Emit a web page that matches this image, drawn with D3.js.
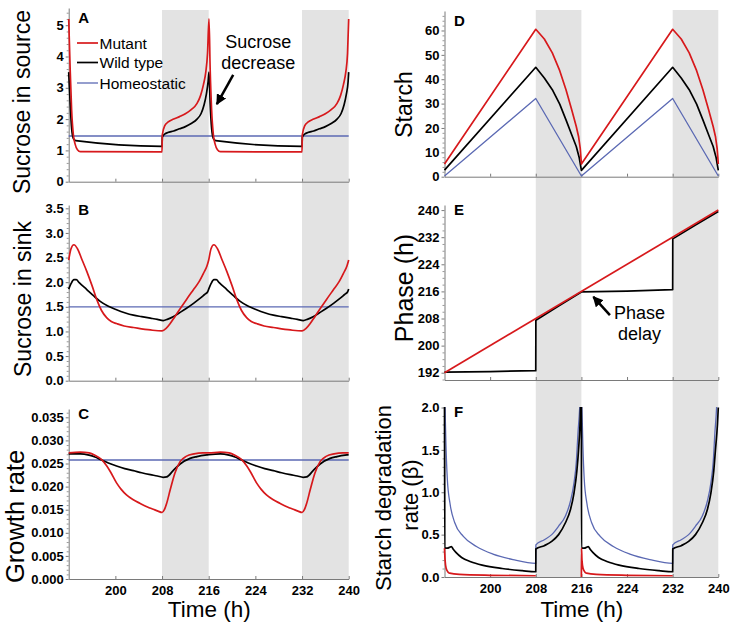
<!DOCTYPE html>
<html>
<head>
<meta charset="utf-8">
<script src="https://cdn.jsdelivr.net/npm/d3@7"></script>
<style>
body { margin: 0; background: #fff; }
text { font-family: "Liberation Sans", Arial, sans-serif; }
</style>
</head>
<body>
<svg width="737" height="632"></svg>
<script>
// ---- data ----
var timeTicks = [200, 208, 216, 224, 232, 240];
var darkPeriods = [[208, 216], [232, 240]];
var seriesNames = ["Mutant", "Wild type", "Homeostatic"];
var seriesColors = ["#d7191c", "#000000", "#5b69b3"];

// A: sucrose in source
var srcTicks = [0, 1, 2, 3, 4, 5];
var srcMutant = [[192,5.2],[192.25,3.6],[192.5,2.3],[192.8,1.5],[193.1,1.2],[193.5,1.02],[194,0.96],[208,0.95],
  [208.05,1.5],[208.5,1.8],[209,1.9],[210,2.0],[211,2.08],[212,2.17],[213,2.3],[214,2.5],[214.6,2.75],[215.1,3.1],[215.5,3.5],[215.8,4.1],[216.05,5.2],
  [216.25,3.6],[216.5,2.3],[216.8,1.5],[217.1,1.2],[217.5,1.02],[218,0.96],[232,0.95],
  [232.05,1.5],[232.5,1.8],[233,1.9],[234,2.0],[235,2.08],[236,2.17],[237,2.3],[238,2.5],[238.6,2.75],[239.1,3.1],[239.5,3.5],[239.8,4.1],[240,5.2]];
var srcWild = [[192,3.5],[192.25,2.5],[192.5,1.7],[192.8,1.38],[193.2,1.31],[208,1.13],
  [208.05,1.42],[208.5,1.53],[209,1.57],[210,1.62],[211,1.69],[212,1.76],[213,1.86],[214,2.0],[214.7,2.18],[215.2,2.45],[215.6,2.8],[215.9,3.2],[216.05,3.5],
  [216.25,2.5],[216.5,1.7],[216.8,1.38],[217.2,1.31],[232,1.13],
  [232.05,1.42],[232.5,1.53],[233,1.57],[234,1.62],[235,1.69],[236,1.76],[237,1.86],[238,2.0],[238.7,2.18],[239.2,2.45],[239.6,2.8],[239.9,3.2],[240,3.5]];
var srcHomeo = [[192,1.46],[240,1.46]];

// B: sucrose in sink
var sinkTicks = [0, 0.5, 1, 1.5, 2, 2.5, 3, 3.5];
var sinkMutant = [[192,2.45],[192.4,2.68],[192.9,2.76],[193.5,2.68],[194.3,2.45],[195.1,2.22],[196,1.93],[196.8,1.65],[197.6,1.43],[198.5,1.28],[199.3,1.2],[200.2,1.16],[201.5,1.11],[203.1,1.08],[206,1.03],[208,1.01],[208.7,1.06],[209.4,1.16],[210.2,1.3],[211.1,1.46],[212.2,1.65],[213.4,1.85],[214.3,2.0],[215.1,2.18],[215.7,2.33],
  [216,2.45],[216.4,2.68],[216.9,2.76],[217.5,2.68],[218.3,2.45],[219.1,2.22],[220,1.93],[220.8,1.65],[221.6,1.43],[222.5,1.28],[223.3,1.2],[224.2,1.16],[225.5,1.11],[227.1,1.08],[230,1.03],[232,1.01],[232.7,1.06],[233.4,1.16],[234.2,1.3],[235.1,1.46],[236.2,1.65],[237.4,1.85],[238.3,2.0],[239.1,2.18],[239.7,2.33],[240,2.45]];
var sinkWild = [[192,1.86],[192.4,1.97],[192.9,2.05],[193.3,2.05],[193.8,1.99],[195.1,1.85],[196.3,1.72],[197.4,1.61],[198.8,1.51],[200.2,1.44],[201.6,1.38],[203.1,1.33],[204.5,1.3],[206,1.27],[207.2,1.245],[208.2,1.22],[209,1.25],[209.9,1.3],[211,1.38],[212.2,1.47],[213.4,1.57],[214.5,1.67],[215.3,1.75],[215.8,1.8],
  [216,1.86],[216.4,1.97],[216.9,2.05],[217.3,2.05],[217.8,1.99],[219.1,1.85],[220.3,1.72],[221.4,1.61],[222.8,1.51],[224.2,1.44],[225.6,1.38],[227.1,1.33],[228.5,1.3],[230,1.27],[231.2,1.245],[232.2,1.22],[233,1.25],[233.9,1.3],[235,1.38],[236.2,1.47],[237.4,1.57],[238.5,1.67],[239.3,1.75],[239.8,1.8],[240,1.86]];
var sinkHomeo = [[192,1.5],[240,1.5]];

// C: growth rate
var growthTicks = [0, 0.005, 0.01, 0.015, 0.02, 0.025, 0.03, 0.035];
var growthMutant = [[192,0.0273],[194,0.02745],[195.5,0.0273],[196.5,0.0268],[197.7,0.0258],[198.5,0.0245],[199.2,0.0231],[200.2,0.0208],[201,0.0194],[201.9,0.0182],[203,0.0172],[204.2,0.0164],[205.5,0.0156],[206.5,0.0151],[207.3,0.0147],[208,0.0144],[208.4,0.015],[208.8,0.0164],[209.4,0.0193],[210.2,0.0229],[211.1,0.0254],[212.2,0.0266],[213.5,0.0271],[215,0.0273],
  [216,0.0273],[218,0.02745],[219.5,0.0273],[220.5,0.0268],[221.7,0.0258],[222.5,0.0245],[223.2,0.0231],[224.2,0.0208],[225,0.0194],[225.9,0.0182],[227,0.0172],[228.2,0.0164],[229.5,0.0156],[230.5,0.0151],[231.3,0.0147],[232,0.0144],[232.4,0.015],[232.8,0.0164],[233.4,0.0193],[234.2,0.0229],[235.1,0.0254],[236.2,0.0266],[237.5,0.0271],[239,0.0273],[240,0.0273]];
var growthWild = [[192,0.0271],[194,0.0271],[195.5,0.0268],[196.5,0.0264],[197.4,0.0259],[198.8,0.0251],[200.2,0.02446],[201.6,0.0239],[203.1,0.02345],[204.5,0.023],[206,0.02259],[207.2,0.0223],[208.2,0.02201],[208.8,0.0221],[209.9,0.02345],[211.1,0.0249],[212.8,0.02612],[214,0.0265],[215.7,0.02685],
  [216,0.0269],[218,0.0271],[219.5,0.0268],[220.5,0.0264],[221.4,0.0259],[222.8,0.0251],[224.2,0.02446],[225.6,0.0239],[227.1,0.02345],[228.5,0.023],[230,0.02259],[231.2,0.0223],[232.2,0.02201],[232.8,0.0221],[233.9,0.02345],[235.1,0.0249],[236.8,0.02612],[238,0.0265],[239.7,0.02685],[240,0.0269]];
var growthHomeo = [[192,0.02576],[240,0.02576]];

// D: starch
var starchTicks = [0, 10, 20, 30, 40, 50, 60];
var starchMutant = [[192,5.2],[208,60.5],[209.5,56.5],[210.9,50.8],[212.2,43.5],[213.3,35.7],[214.3,27.5],[215.1,20.6],[215.5,16.5],[215.8,11.5],[216,5.2],
  [232,60.5],[233.5,56.5],[234.9,50.8],[236.2,43.5],[237.3,35.7],[238.3,27.5],[239.1,20.6],[239.5,16.5],[239.8,11.5],[240,5.2]];
var starchWild = [[192,2.7],[208,44.9],[209.5,40.5],[210.9,35.7],[212.2,29.8],[213.3,23.3],[214.3,17.2],[215.1,12.4],[215.6,8],[216,2.6],
  [232,44.9],[233.5,40.5],[234.9,35.7],[236.2,29.8],[237.3,23.3],[238.3,17.2],[239.1,12.4],[239.6,8],[240,2.6]];
var starchHomeo = [[192,0.3],[208,32.1],[216,0.3],[232,32.1],[240,0.3]];

// E: phase
var phaseTicks = [192, 200, 208, 216, 224, 232, 240];
var phaseMutant = [[192,192],[240,240]];
var phaseWild = [[192,192.2],[200,192.35],[208,192.6],[208.02,207.5],[212,211.7],[216,215.85],[224,216.1],[232,216.5],[232.02,231.5],[236,235.6],[240,239.6]];

// F: starch degradation rate
var betaTicks = [0, 0.5, 1, 1.5, 2];
var betaMutant = [[192,0.34],[192.1,0.2],[192.3,0.1],[192.6,0.06],[192.9,0.045],[194.6,0.03],[200,0.02],[208,0.015],[208.01,null],
  [216,0],[216.02,0.34],[216.1,0.2],[216.3,0.1],[216.6,0.06],[216.9,0.045],[218.6,0.03],[224,0.02],[232,0.015],[232.01,null],[240,null]];
var betaWild = [[192,2.3],[192.02,0.34],[192.5,0.34],[192.9,0.35],[193.2,0.36],[193.5,0.33],[194,0.29],[195,0.23],[196.6,0.18],[198.6,0.14],[202.1,0.1],[205.6,0.075],[208,0.062],
  [208.02,0.33],[209.5,0.37],[210.8,0.42],[212,0.5],[213.2,0.64],[214.1,0.8],[214.7,0.99],[215.2,1.25],[215.5,1.5],[215.85,2.0],[216,2.5],
  [216.02,0.34],[216.5,0.34],[216.9,0.35],[217.2,0.36],[217.5,0.33],[218,0.29],[219,0.23],[220.6,0.18],[222.6,0.14],[226.1,0.1],[229.6,0.075],[232,0.062],
  [232.02,0.33],[233.5,0.37],[234.8,0.42],[236,0.5],[237.2,0.64],[238.1,0.8],[238.7,0.99],[239.2,1.25],[239.5,1.5],[239.85,1.8],[240,2.0]];
var betaHomeo = [[192,2.3],[192.1,1.98],[192.26,1.55],[192.5,1.15],[192.96,0.87],[193.8,0.64],[195.3,0.48],[197.6,0.36],[200.5,0.27],[204,0.205],[208,0.16],
  [208.02,0.38],[209.5,0.44],[210.8,0.5],[212,0.6],[213.2,0.72],[214.1,0.9],[214.7,1.11],[215.1,1.35],[215.4,1.7],[215.7,2.0],[216,2.6],
  [216.02,2.3],[216.1,1.98],[216.26,1.55],[216.5,1.15],[216.96,0.87],[217.8,0.64],[219.3,0.48],[221.6,0.36],[224.5,0.27],[228,0.205],[232,0.16],
  [232.02,0.38],[233.5,0.44],[234.8,0.5],[236,0.6],[237.2,0.72],[238.1,0.9],[238.7,1.11],[239.1,1.35],[239.4,1.7],[239.7,2.0],[240,2.6]];

// ---- drawing ----
var svg = d3.select("svg");
svg.append("rect").attr("width", 737).attr("height", 632).attr("fill", "#fff");

var xLeft = d3.scaleLinear().domain([192, 240]).range([68.7, 348.7]),
    xRight = d3.scaleLinear().domain([192, 240]).range([444.5, 718.3]);

// night bands run through the whole column
[[xLeft, 10, 579], [xRight, 10, 577]].forEach(function(c) {
    svg.append("g").selectAll("rect")
        .data(darkPeriods)
        .enter().append("rect")
        .attr("x", function(d) { return c[0](d[0]); })
        .attr("width", function(d) { return c[0](d[1]) - c[0](d[0]); })
        .attr("y", c[1])
        .attr("height", c[2] - c[1])
        .attr("fill", "#e3e3e3");
});

var panels = [
    {id: "A", x: xLeft, domain: [0, 5.55], range: [181.7, 8], ticks: srcTicks, minor: 0.2, fmt: d3.format("d"),
     curve: d3.curveMonotoneX, series: [[srcHomeo, 2], [srcWild, 1], [srcMutant, 0]]},
    {id: "B", x: xLeft, domain: [0, 3.567], range: [380.7, 205], ticks: sinkTicks, minor: 0.1, fmt: d3.format(".1f"),
     curve: d3.curveMonotoneX, series: [[sinkHomeo, 2], [sinkWild, 1], [sinkMutant, 0]]},
    {id: "C", x: xLeft, domain: [0, 0.0368], range: [579, 409], ticks: growthTicks, minor: 0.001, fmt: d3.format(".3f"),
     curve: d3.curveMonotoneX, series: [[growthHomeo, 2], [growthWild, 1], [growthMutant, 0]], xLabels: true},
    {id: "D", x: xRight, domain: [0, 68], range: [176.7, 11], ticks: starchTicks, minor: 2, fmt: d3.format("d"),
     curve: d3.curveLinear, series: [[starchHomeo, 2], [starchWild, 1], [starchMutant, 0]]},
    {id: "E", x: xRight, domain: [189.85, 241.5], range: [380, 205], ticks: phaseTicks, minor: 2, fmt: d3.format("d"),
     curve: d3.curveLinear, series: [[phaseWild, 1], [phaseMutant, 0]]},
    {id: "F", x: xRight, domain: [0, 2.006], range: [577, 407], ticks: betaTicks, minor: 0.1, fmt: d3.format(".1f"),
     curve: d3.curveMonotoneX, series: [[betaHomeo, 2], [betaWild, 1], [betaMutant, 0]], xLabels: true}
];

panels.forEach(function(p) {
    var y = d3.scaleLinear().domain(p.domain).range(p.range);
    var x0 = p.x.range()[0], x1 = p.x.range()[1];
    var g = svg.append("g");
    p.y = y;

    // minor ticks on the y axis
    var minor = d3.range(Math.ceil(p.domain[0] / p.minor - 1e-6) * p.minor, p.domain[1], p.minor)
        .filter(function(v) {
            return !p.ticks.some(function(t) { return Math.abs(t - v) < p.minor / 10; });
        });
    g.append("g")
        .attr("transform", "translate(" + x0 + ",0)")
        .call(d3.axisLeft(y).tickValues(minor).tickSize(2).tickFormat("").tickSizeOuter(0))
        .call(function(a) { a.select(".domain").remove(); a.selectAll("line").attr("stroke", "#999"); });

    var ya = g.append("g")
        .attr("transform", "translate(" + x0 + ",0)")
        .call(d3.axisLeft(y).tickValues(p.ticks).tickFormat(p.fmt).tickSize(3).tickPadding(2).tickSizeOuter(0));
    ya.selectAll("text").attr("font-size", "13px").attr("font-weight", "bold").attr("fill", "#000")
        .attr("font-family", "'Liberation Sans', Arial, sans-serif");
    ya.selectAll("line, .domain").attr("stroke", "#7a7a7a");

    var xa = g.append("g")
        .attr("transform", "translate(0," + p.range[0] + ")")
        .call(d3.axisBottom(p.x).tickValues(timeTicks).tickSize(-3).tickPadding(7).tickSizeOuter(0)
            .tickFormat(p.xLabels ? d3.format("d") : ""));
    xa.selectAll("text").attr("font-size", "13px").attr("font-weight", "bold").attr("fill", "#000")
        .attr("font-family", "'Liberation Sans', Arial, sans-serif");
    xa.selectAll("line, .domain").attr("stroke", "#7a7a7a");

    svg.append("clipPath").attr("id", "clip" + p.id)
        .append("rect")
        .attr("x", x0 - 2).attr("y", p.range[1])
        .attr("width", x1 - x0 + 4).attr("height", p.range[0] - p.range[1] + 2);

    var line = d3.line()
        .defined(function(d) { return d[1] !== null; })
        .x(function(d) { return p.x(d[0]); })
        .y(function(d) { return y(d[1]); })
        .curve(p.curve);

    g.selectAll(".series")
        .data(p.series)
        .enter().append("path")
        .attr("clip-path", "url(#clip" + p.id + ")")
        .attr("fill", "none")
        .attr("stroke", function(s) { return seriesColors[s[1]]; })
        .attr("stroke-width", function(s) { return s[1] === 2 ? 1.3 : 1.7; })
        .attr("stroke-linejoin", "round")
        .attr("d", function(s) { return line(s[0]); });

    svg.append("text")
        .attr("x", x0 + 9.5)
        .attr("y", p.range[1] + (p.id === "A" || p.id === "D" ? 15 : 9.5))
        .attr("font-size", "15px")
        .attr("font-weight", "bold")
        .text(p.id);
});

// axis titles
var titles = [
    {text: "Sucrose in source", x: 30, y: 102, size: 23},
    {text: "Sucrose in sink", x: 31, y: 299, size: 23},
    {text: "Growth rate", x: 24, y: 516.5, size: 25.5},
    {text: "Starch", x: 412, y: 104.5, size: 23},
    {text: "Phase (h)", x: 413, y: 288, size: 25},
    {text: "Starch degradation", x: 391, y: 498, size: 22},
    {text: "rate (\u03b2)", x: 418, y: 495, size: 22}
];
svg.selectAll(".ytitle")
    .data(titles)
    .enter().append("text")
    .attr("transform", function(d) { return "translate(" + d.x + "," + d.y + ") rotate(-90)"; })
    .attr("text-anchor", "middle")
    .attr("font-size", function(d) { return d.size + "px"; })
    .text(function(d) { return d.text; });

[xLeft, xRight].forEach(function(x) {
    svg.append("text")
        .attr("x", (x.range()[0] + x.range()[1]) / 2 + 0.5)
        .attr("y", 617)
        .attr("text-anchor", "middle")
        .attr("font-size", "22.5px")
        .text("Time (h)");
});

// legend in panel A
var legend = svg.append("g");
var legendY = [43, 62.5, 83];
seriesNames.forEach(function(name, i) {
    legend.append("line")
        .attr("x1", 77).attr("x2", 98)
        .attr("y1", legendY[i]).attr("y2", legendY[i])
        .attr("stroke", seriesColors[i])
        .attr("stroke-width", i === 2 ? 1.3 : 1.7);
    legend.append("text")
        .attr("x", 99.5).attr("y", legendY[i] + 5.5)
        .attr("font-size", "15.5px")
        .text(name);
});

// annotations
svg.append("defs").append("marker")
    .attr("id", "head")
    .attr("viewBox", "0 0 10 10")
    .attr("refX", 9).attr("refY", 5)
    .attr("markerWidth", 4.2).attr("markerHeight", 4.2)
    .attr("markerUnits", "strokeWidth")
    .attr("orient", "auto")
    .append("path")
    .attr("d", "M0,0L10,5L0,10z")
    .attr("fill", "#000");

var pA = panels[0], pE = panels[4];
var notes = [
    {p: pA, lines: ["Sucrose", "decrease"], tx: 224.5, ty: [4.28, 3.6], from: [220.2, 3.41], to: [217.4, 2.48]},
    {p: pE, lines: ["Phase", "delay"], tx: 226.2, ty: [207.8, 201.6], from: [221.0, 209.0], to: [218.1, 214.4]}
];
notes.forEach(function(n) {
    n.lines.forEach(function(t, i) {
        svg.append("text")
            .attr("x", n.p.x(n.tx))
            .attr("y", n.p.y(n.ty[i]))
            .attr("text-anchor", "middle")
            .attr("font-size", "18px")
            .text(t);
    });
    svg.append("line")
        .attr("x1", n.p.x(n.from[0])).attr("y1", n.p.y(n.from[1]))
        .attr("x2", n.p.x(n.to[0])).attr("y2", n.p.y(n.to[1]))
        .attr("stroke", "#000")
        .attr("stroke-width", 2.5)
        .attr("marker-end", "url(#head)");
});
</script>
</body>
</html>
